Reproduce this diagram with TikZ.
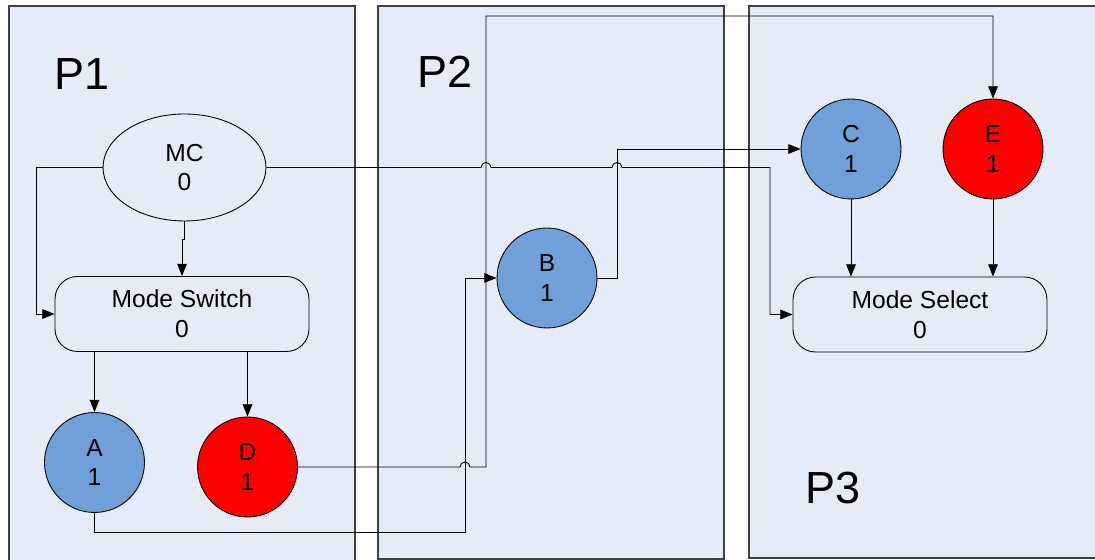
\documentclass[tikz,border=0pt]{standalone}
\usepackage{fontspec}
\setsansfont{Liberation Sans}
\usepackage{tikz}
\usetikzlibrary{shapes, positioning}
\usetikzlibrary{calc}
\usetikzlibrary{arrows.meta}
\definecolor{panelblue}{RGB}{230,236,247}
\definecolor{procblue}{RGB}{112,159,217}
\definecolor{procred}{RGB}{255,0,0}

\tikzset{
	panel/.style={draw=black!75, line width=0.8pt, fill=panelblue},
	plabel/.style={font=\sffamily\fontsize{25.6}{30}\selectfont},
	nodefont/.style={font=\sffamily\fontsize{14}{17}\selectfont, align=center},
	proc/.style={circle, draw, line width=0.5pt, minimum size=2cm, inner sep=0pt, nodefont},
	modebox/.style={draw, line width=0.5pt, rounded corners=0.45cm, minimum width=5.08cm, minimum height=1.5cm, nodefont},
	link/.style={draw, line width=0.5pt, -{Triangle[length=7pt,width=5.5pt]}},
	wire/.style={draw, line width=0.5pt},
}

\begin{document}
\begin{tikzpicture}[x=0.02cm, y=0.02cm]
		\useasboundingbox (0,0) rectangle (1095,560);
		% partitions
		\draw[panel] (9,-10) rectangle (355,554);
		\draw[panel] (378,1) rectangle (724,554);
		\draw[panel] (749,2) rectangle (1110,554);
		\node[plabel] (p1) at (82,486) {P1};
		\node[plabel] (p2) at (445,488) {P2};
		\node[plabel] (p3) at (833,72) {P3};

		% P1
		\node[ellipse, draw, line width=0.5pt, minimum width=3.26cm, minimum height=2.14cm, inner sep=0pt, nodefont] (mc) at (184.5,392.5) {MC\\0};
		\node[modebox] (ms) at (182,246) {Mode Switch\\0};
		\node[proc, fill=procblue] (a) at (94.5,97.5) {A\\1};
		\node[proc, fill=procred] (d) at (247.5,93) {D\\1};

		% P2
		\node[proc, fill=procblue] (b) at (547,282) {B\\1};

		% P3
		\node[proc, fill=procblue] (c) at (851,411) {C\\1};
		\node[proc, fill=procred] (e) at (993,411) {E\\1};
		\node[modebox] (msel) at (920,245.5) {Mode Select\\0};

		% links
		\draw[link] (mc.west) -| ($(ms.west)+(-18,0)$) -- (ms.west);
		\draw[link] (mc.south) -- ++(0,-18) -| (ms.north);
		\draw[link] (ms.south -| a.north) -- (a.north);
		\draw[link] (ms.south -| d.north) -- (d.north);
		\draw[link] (a.south) |- (465,28) |- (b.west);
		\draw[link] (d.east) -- (460,93) arc[start angle=180, end angle=0, radius=0.1cm] -- (486,93) -- (486,544) -| (e.north);
		\draw[link] (b.east) -- (617,282) |- (c.west);
		\draw[link] (mc.east) -- (481,392.5) arc[start angle=180, end angle=0, radius=0.1cm] -- (612,392.5) arc[start angle=180, end angle=0, radius=0.1cm] -- (770,392.5) |- (msel.west);
		\draw[link] (c.south) -- (c.south |- msel.north);
		\draw[link] (e.south) -- (e.south |- msel.north);
	\end{tikzpicture}
\end{document}
